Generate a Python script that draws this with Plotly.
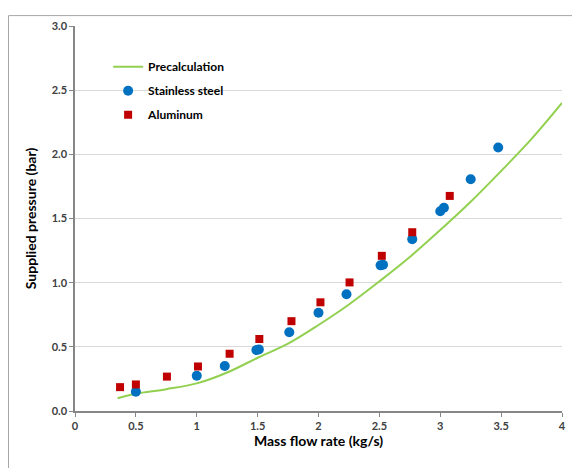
import plotly.graph_objects as go

# Precalculation curve
pre_x = [0.35, 0.5, 0.75, 1.0, 1.25, 1.5, 1.75, 2.0, 2.25, 2.5, 2.75, 3.0, 3.25, 3.5, 3.75, 4.0]
pre_y = [0.10, 0.135, 0.17, 0.215, 0.30, 0.415, 0.525, 0.67, 0.83, 1.01, 1.20, 1.41, 1.63, 1.87, 2.12, 2.40]

# Stainless steel measurements
ss_x = [0.50, 1.00, 1.23, 1.49, 1.51, 1.76, 2.00, 2.23, 2.51, 2.53, 2.77, 3.00, 3.03, 3.25, 3.476]
ss_y = [0.15, 0.275, 0.35, 0.475, 0.48, 0.614, 0.765, 0.91, 1.135, 1.14, 1.339, 1.556, 1.584, 1.806, 2.053]

# Aluminum measurements
al_x = [0.37, 0.50, 0.755, 1.01, 1.27, 1.514, 1.778, 2.016, 2.255, 2.52, 2.77, 3.078]
al_y = [0.186, 0.207, 0.268, 0.347, 0.446, 0.561, 0.70, 0.847, 1.002, 1.209, 1.393, 1.676]

x_ticks = [0, 0.5, 1, 1.5, 2, 2.5, 3, 3.5, 4]
x_tick_labels = ["0", "0.5", "1", "1.5", "2", "2.5", "3", "3.5", "4"]
y_ticks = [0.0, 0.5, 1.0, 1.5, 2.0, 2.5, 3.0]
y_tick_labels = ["0.0", "0.5", "1.0", "1.5", "2.0", "2.5", "3.0"]

FONT = "Lato, 'Liberation Sans', sans-serif"

fig = go.Figure()
fig.add_trace(go.Scatter(x=pre_x, y=pre_y, mode="lines", name="Precalculation",
                         line=dict(color="#92D050", width=2, shape="spline"),
                         legendgroup="a"))
fig.add_trace(go.Scatter(x=ss_x, y=ss_y, mode="markers", name="Stainless steel",
                         marker=dict(symbol="circle", size=10, color="#0070C0"),
                         legendgroup="b"))
fig.add_trace(go.Scatter(x=al_x, y=al_y, mode="markers", name="Aluminum",
                         marker=dict(symbol="square", size=8, color="#C00000"),
                         legendgroup="c"))

axis_common = dict(showline=True, linecolor="#868686", linewidth=1.5,
                   ticks="outside", ticklen=4, tickcolor="#868686",
                   tickfont=dict(family=FONT, size=11, color="#404040", weight="bold"),
                   zeroline=False)

fig.update_xaxes(range=[0, 4], tickvals=x_ticks, ticktext=x_tick_labels,
                 showgrid=False,
                 title=dict(text="<b>Mass flow rate (kg/s)</b>",
                            font=dict(family=FONT, size=14, color="#000000"),
                            standoff=5),
                 **axis_common)
fig.update_yaxes(range=[0, 3.0], tickvals=y_ticks, ticktext=y_tick_labels,
                 showgrid=True, gridcolor="#D9D9D9", gridwidth=1,
                 title=dict(text="<b>Supplied pressure (bar)</b>",
                            font=dict(family=FONT, size=14, color="#000000"),
                            standoff=12),
                 **axis_common)

fig.update_layout(
    width=572, height=460,
    margin=dict(l=67, r=18, t=11, b=57),
    paper_bgcolor="white", plot_bgcolor="white",
    legend=dict(x=0.068, y=0.932, xanchor="left", yanchor="top",
                bgcolor="rgba(0,0,0,0)",
                font=dict(family=FONT, size=12, color="#000000", weight="bold"),
                tracegroupgap=5, traceorder="grouped"),
    shapes=[dict(type="rect", xref="paper", yref="paper",
                 x0=-0.1365, x1=1.2, y0=-0.2, y1=1.027,
                 line=dict(color="#A6A6A6", width=1), layer="below")],
)

fig.write_html("out.html")
